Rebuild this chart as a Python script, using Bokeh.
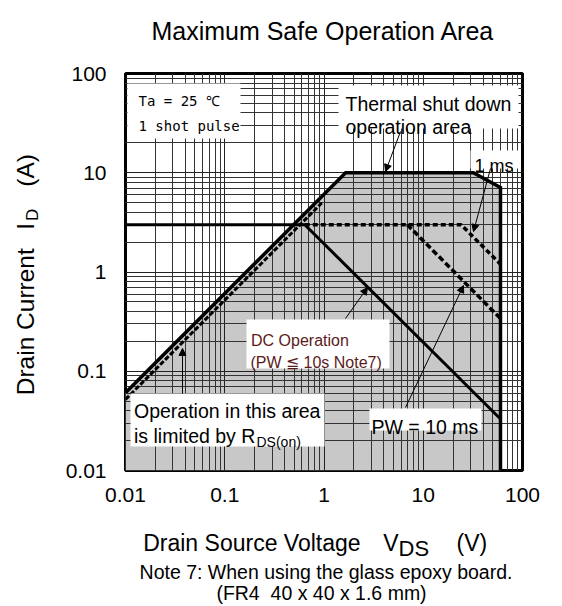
import math
from bokeh.plotting import figure
from bokeh.layouts import column, row
from bokeh.models import Range1d, FixedTicker, Label, BoxAnnotation, Arrow, NormalHead
from bokeh.embed import file_html
from bokeh.resources import INLINE

# ---------------- data ----------------
TICKS = [0.01, 0.1, 1, 10, 100]
TICK_LABELS = ["0.01", "0.1", "1", "10", "100"]

# outer SOA envelope (R_DS(on) limit -> 10 A -> thermal shut down -> 60 V)
soa_v = [0.01, 1.65, 32.0, 60.0, 60.0]
soa_i = [0.0606, 10.0, 10.0, 7.1, 0.01]

# dashed R_DS(on) limit of the pulse curves
rds_dash_v = [0.01, 0.95]
rds_dash_i = [0.052, 4.96]

# DC operation (PW <= 10 s)
dc_v = [0.01, 0.64, 60.0]
dc_i = [3.0, 3.0, 0.033]

# 1 ms pulse
pw1_v = [0.64, 24.0, 60.0]
pw1_i = [3.0, 3.0, 1.2]

# 10 ms pulse (branches off the 3 A dashed line)
pw10_v = [6.9, 60.0]
pw10_i = [3.0, 0.34]

# ---------------- layout (canvas pixels) ----------------
W, H = 562, 606
FL, FT, FS = 125, 73, 397          # frame left / top / size
TOP_H = 45                          # title strip
LEFT_W = 60                         # y-title strip
MAIN_W = W - LEFT_W
MAIN_BT, MAIN_BB, MAIN_BR = FT - TOP_H, 50, 40
MAIN_H = MAIN_BT + FS + MAIN_BB
BOT_H = H - TOP_H - MAIN_H
FONT = "Liberation Sans"


def dx(px):
    """canvas x pixel -> data x (log axis 0.01..100)"""
    return 10 ** (-2 + 4 * (px - FL) / FS)


def dy(py):
    """canvas y pixel -> data y (log axis 0.01..100)"""
    return 10 ** (2 - 4 * (py - FT) / FS)


def blank(x0, y0, w, h):
    f = figure(width=w, height=h, x_range=Range1d(x0, x0 + w), y_range=Range1d(y0 + h, y0),
               output_backend="svg", toolbar_location=None,
               x_axis_location=None, y_axis_location=None,
               min_border=0)
    f.grid.visible = False
    f.outline_line_color = None
    f.background_fill_color = "white"
    f.border_fill_color = "white"
    return f


def add_label(fig, x, y, text, size, font=FONT, align="left", baseline="alphabetic",
              color="black", angle=0):
    fig.add_layout(Label(x=x, y=y, text=text, text_font=font,
                         text_font_size=f"{size}px", text_align=align,
                         text_baseline=baseline, text_color=color, angle=angle))


# ---------------- main chart ----------------
p = figure(width=MAIN_W, height=MAIN_H, x_axis_type="log", y_axis_type="log",
           x_range=Range1d(0.01, 100), y_range=Range1d(0.01, 100),
           output_backend="svg", toolbar_location=None,
           min_border_left=FL - LEFT_W, min_border_right=MAIN_BR,
           min_border_top=MAIN_BT, min_border_bottom=MAIN_BB)
p.background_fill_color = "white"
p.border_fill_color = "white"
p.outline_line_color = "black"
p.outline_line_width = 3

minor = [m * 10 ** e for e in range(-2, 2) for m in range(2, 10)]
for ax in (p.xaxis, p.yaxis):
    ax.ticker = FixedTicker(ticks=TICKS, minor_ticks=minor)
    ax.major_label_overrides = dict(zip(TICKS, TICK_LABELS))
    ax.axis_line_color = None
    ax.major_tick_line_color = None
    ax.minor_tick_line_color = None
    ax.major_label_text_font = FONT
    ax.major_label_text_font_size = "21px"
    ax.major_label_text_color = "black"
p.xaxis.major_label_standoff = 11
p.yaxis.major_label_standoff = 13

for g in (p.xgrid, p.ygrid):
    g.grid_line_color = "#222222"
    g.grid_line_width = 1
    g.grid_line_alpha = 1
    g.minor_grid_line_color = "#333333"
    g.minor_grid_line_width = 1
    g.minor_grid_line_alpha = 1

# shaded safe area (drawn beneath the grid)
p.patch(soa_v + [TICKS[0]], soa_i + [TICKS[0]], fill_color="#c8c8c8",
        line_color=None, level="image")

# curves
p.line(soa_v, soa_i, line_color="black", line_width=3.5, line_join="miter")
p.line(rds_dash_v, rds_dash_i, line_color="black", line_width=3, line_dash="5 2")
p.line(dc_v, dc_i, line_color="black", line_width=3, line_join="miter")
p.line(pw1_v, pw1_i, line_color="black", line_width=3.5, line_dash="5 3")
p.line(pw10_v, pw10_i, line_color="black", line_width=3.5, line_dash="6 3")

# white text boxes (canvas px: left, right, top, bottom)
boxes = [
    (127, 240, 83, 138),   # Ta box
    (338, 518, 85, 128),   # thermal
    (470, 518, 150, 168),  # 1 ms
    (246, 389, 319, 368),  # DC
    (130, 324, 393, 446),  # R_DS(on)
    (369, 481, 408, 430),  # 10 ms
]
for l, r, t, b in boxes:
    p.add_layout(BoxAnnotation(left=dx(l), right=dx(r), top=dy(t), bottom=dy(b),
                               fill_color="white", fill_alpha=1, line_color=None))

# leader arrows
arrows = [
    ((400, 131), (385, 171)),
    ((490, 168), (473, 231)),
    ((345, 318), (367, 287)),
    ((405, 407), (463, 285)),
    ((182, 393), (182, 348)),
]
for (x0, y0), (x1, y1) in arrows:
    p.add_layout(Arrow(end=NormalHead(size=7, fill_color="black", line_color="black", line_width=1),
                       x_start=dx(x0), y_start=dy(y0), x_end=dx(x1), y_end=dy(y1),
                       line_color="black", line_width=1))


def lab(px, py, text, size, **kw):
    add_label(p, dx(px), dy(py), text, size, **kw)


MONO = "DejaVu Sans Mono"
lab(138, 100, "Ta = 25 \u2103", 14, font=MONO, baseline="middle")
lab(138, 125, "1 shot pulse", 14, font=MONO, baseline="middle")
lab(345, 103, "Thermal shut down", 19.5)
lab(345, 126.5, "operation area", 19.5)
lab(474, 165, "1 ms", 18)
DC_COL = "#5b1a1a"
lab(250.5, 340, "DC Operation", 16, color=DC_COL)
lab(250, 362, "(PW \u2266 10s Note7)", 16, color=DC_COL)
lab(133.5, 410, "Operation in this area", 19.5)
lab(133.5, 435, "is limited by R", 19.5)
lab(256, 441, "DS(on)", 14)
lab(371, 426.5, "PW = 10 ms", 19.5)

# ---------------- title strip ----------------
top = blank(0, 0, W, TOP_H)
add_label(top, 322.5, 30, "Maximum Safe Operation Area", 25, align="center")

# ---------------- y-title strip (rotated, centre anchored) ----------------
left = blank(0, TOP_H, LEFT_W, MAIN_H)
A = math.pi / 2
add_label(left, 25, 342, "Drain Current", 24.5, angle=A, align="center", baseline="middle")
add_label(left, 25, 228, "I", 24.5, angle=A, align="center", baseline="middle")
add_label(left, 32, 214, "D", 17, angle=A, align="center", baseline="middle")
add_label(left, 25, 161, "(A)", 24.5, angle=A, align="center", baseline="middle")

# ---------------- bottom strip ----------------
y0 = TOP_H + MAIN_H
bot = blank(0, y0, W, BOT_H)
add_label(bot, 142.7, 542, "Drain Source Voltage", 23)
add_label(bot, 382.7, 542, "V", 23)
add_label(bot, 398, 548, "DS", 22)
add_label(bot, 486.7, 542, "(V)", 23, align="right")
add_label(bot, 325.5, 571, "Note 7: When using the glass epoxy board.", 19.5, align="center")
add_label(bot, 321, 592, "(FR4\u00a0 40 x 40 x 1.6 mm)", 19.5, align="center")

layout = column(top, row(left, p), bot)
open("out.html", "w").write(file_html(layout, INLINE))
